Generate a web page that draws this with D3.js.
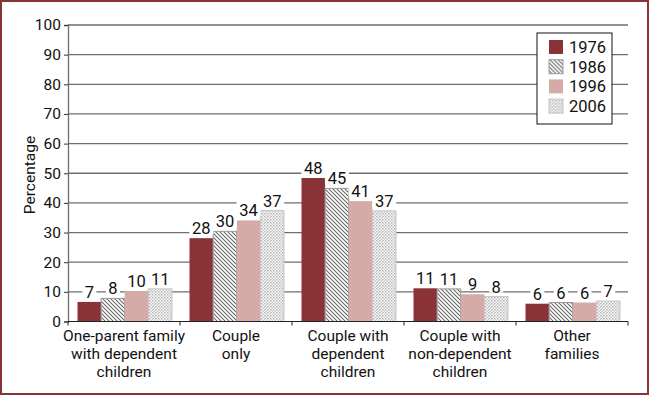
<!DOCTYPE html>
<html>
<head>
<meta charset="utf-8">
<script src="https://d3js.org/d3.v7.min.js"></script>
<style>
  body { margin: 0; background: #fff; }
  svg text { font-family: Roboto, "Open Sans", sans-serif; fill: #111; }
</style>
</head>
<body>
<svg id="chart" width="650" height="396"></svg>
<script>
var categories = [
  ["One-parent family", "with dependent", "children"],
  ["Couple", "only"],
  ["Couple with", "dependent", "children"],
  ["Couple with", "non-dependent", "children"],
  ["Other", "families"]
];
var years = ["1976", "1986", "1996", "2006"];
var s1976 = [6.6, 28.1, 48.4, 11.2, 6.0];
var s1986 = [7.8, 30.4, 44.9, 11.0, 6.4];
var s1996 = [10.3, 34.1, 40.6, 9.2, 6.4];
var s2006 = [11.0, 37.4, 37.3, 8.4, 6.9];
var yTicks = [0, 10, 20, 30, 40, 50, 60, 70, 80, 90, 100];

var series = [s1976, s1986, s1996, s2006];

var svg = d3.select("#chart");

// patterns for 1986 (hatch) and 2006 (dots)
var defs = svg.append("defs");
var hatch = defs.append("pattern")
    .attr("id", "hatch")
    .attr("patternUnits", "userSpaceOnUse")
    .attr("width", 4)
    .attr("height", 4);
hatch.append("rect").attr("width", 4).attr("height", 4).attr("fill", "#fff");
hatch.append("path")
    .attr("d", "M-1,-1 L5,5 M-1,3 L1,5 M3,-1 L5,1")
    .attr("stroke", "#6a6a6a")
    .attr("stroke-width", 1.1);

var dots = defs.append("pattern")
    .attr("id", "dots")
    .attr("patternUnits", "userSpaceOnUse")
    .attr("width", 3)
    .attr("height", 3);
dots.append("rect").attr("width", 3).attr("height", 3).attr("fill", "#fafafa");
dots.append("rect").attr("width", 1.5).attr("height", 1.5).attr("fill", "#b5b5b5");
dots.append("rect").attr("x", 1.5).attr("y", 1.5).attr("width", 1.5).attr("height", 1.5).attr("fill", "#c8c8c8");

var fills = ["#8a3337", "url(#hatch)", "#d4aba6", "url(#dots)"];
var strokes = ["none", "#9a9a9a", "none", "#c4c4c4"];

// outer frame
svg.append("rect")
    .attr("x", 1).attr("y", 1)
    .attr("width", 647).attr("height", 393)
    .attr("fill", "none")
    .attr("stroke", "#8a3337")
    .attr("stroke-width", 2);

var x = d3.scaleBand()
    .domain(d3.range(categories.length))
    .range([68, 628]);

var xInner = d3.scaleBand()
    .domain(years)
    .range([9.5, 104]);

var y = d3.scaleLinear()
    .domain([0, 100])
    .range([321.5, 25]);

// gridlines
svg.append("g")
    .selectAll("line")
    .data(yTicks.filter(d => d > 0))
    .enter()
    .append("line")
    .attr("x1", 68)
    .attr("x2", 628)
    .attr("y1", d => y(d))
    .attr("y2", d => y(d))
    .attr("stroke", "#6e6e6e")
    .attr("stroke-width", 1.3);

// y axis
var yAxis = svg.append("g")
    .attr("transform", "translate(68,0)")
    .call(d3.axisLeft(y).tickValues(yTicks).tickSize(4).tickPadding(3));
yAxis.select(".domain").attr("stroke", "#6e6e6e").attr("stroke-width", 1.3);
yAxis.selectAll(".tick line").attr("stroke", "#333");
yAxis.selectAll(".tick text")
    .attr("font-size", "15.5px")
    .attr("font-family", "Roboto, sans-serif")
    .attr("fill", "#111");

svg.append("text")
    .attr("transform", "translate(35,175) rotate(-90)")
    .attr("font-size", "15.5px")
    .style("text-anchor", "middle")
    .text("Percentage");

// bars
var groups = svg.append("g")
    .selectAll(".group")
    .data(categories)
    .enter()
    .append("g")
    .classed("group", true)
    .attr("transform", (d, i) => "translate(" + x(i) + ",0)");

var barData = (d, i) => years.map((yr, j) => ({ year: yr, j: j, value: series[j][i] }));

groups.selectAll(".bar")
    .data(barData)
    .enter()
    .append("rect")
    .classed("bar", true)
    .attr("x", d => xInner(d.year))
    .attr("width", xInner.bandwidth())
    .attr("y", d => y(d.value))
    .attr("height", d => y(0) - y(d.value))
    .attr("fill", d => fills[d.j])
    .attr("stroke", d => strokes[d.j])
    .attr("stroke-width", 1);

// value labels with white backing
var labels = groups.selectAll(".val")
    .data(barData)
    .enter()
    .append("g")
    .classed("val", true)
    .attr("transform", d => "translate(" + (xInner(d.year) + xInner.bandwidth() / 2) + "," + (y(d.value) - 4) + ")");

labels.append("rect")
    .attr("x", d => -String(Math.round(d.value)).length * 5 - 2)
    .attr("y", -15)
    .attr("width", d => String(Math.round(d.value)).length * 10 + 4)
    .attr("height", 15)
    .attr("fill", "#fff");

labels.append("text")
    .attr("font-size", "16.5px")
    .style("text-anchor", "middle")
    .text(d => Math.round(d.value));

// x axis
var xAxis = svg.append("g");
xAxis.append("line")
    .attr("x1", 68).attr("x2", 628)
    .attr("y1", y(0)).attr("y2", y(0))
    .attr("stroke", "#222")
    .attr("stroke-width", 1.2);
xAxis.selectAll(".xtick")
    .data(d3.range(categories.length + 1))
    .enter()
    .append("line")
    .attr("x1", d => 68 + d * x.bandwidth())
    .attr("x2", d => 68 + d * x.bandwidth())
    .attr("y1", y(0))
    .attr("y2", y(0) + 4)
    .attr("stroke", "#222");

groups.append("text")
    .attr("x", x.bandwidth() / 2)
    .attr("y", 341)
    .attr("font-size", "15.5px")
    .style("text-anchor", "middle")
    .selectAll("tspan")
    .data(d => d)
    .enter()
    .append("tspan")
    .attr("x", x.bandwidth() / 2)
    .attr("dy", (d, i) => i === 0 ? 0 : 18)
    .text(d => d);

// legend
var legend = svg.append("g").attr("transform", "translate(537,33)");
legend.append("rect")
    .attr("width", 75)
    .attr("height", 91)
    .attr("fill", "#fff")
    .attr("stroke", "#111")
    .attr("stroke-width", 1);

var items = legend.selectAll(".item")
    .data(years)
    .enter()
    .append("g")
    .classed("item", true)
    .attr("transform", (d, i) => "translate(12," + (14 + i * 19.7) + ")");

items.append("rect")
    .attr("y", -7)
    .attr("width", 14)
    .attr("height", 14)
    .attr("fill", (d, i) => fills[i])
    .attr("stroke", (d, i) => strokes[i]);

items.append("text")
    .attr("x", 20)
    .attr("y", 6)
    .attr("font-size", "16.5px")
    .text(d => d);
</script>
</body>
</html>
